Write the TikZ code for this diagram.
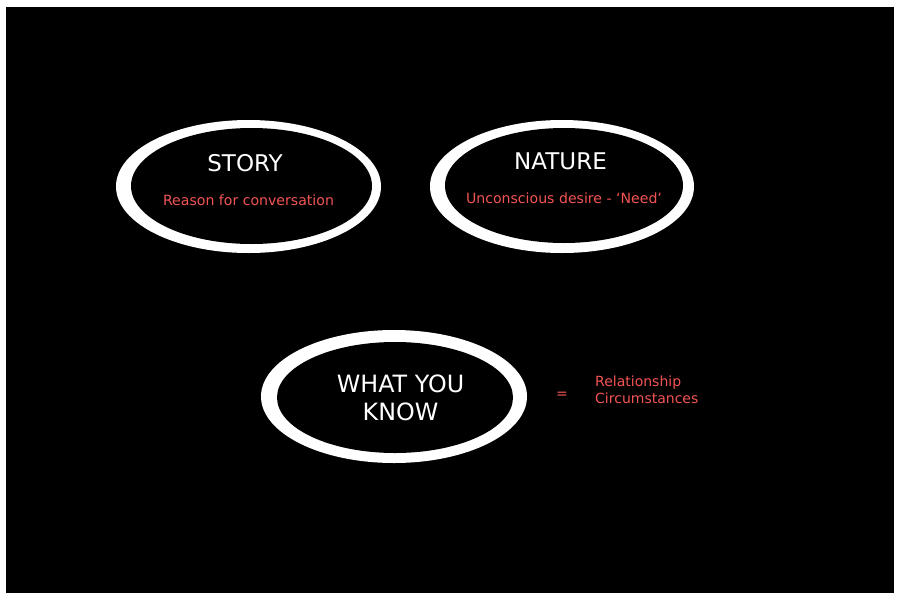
\documentclass[tikz,border=0pt]{standalone}
\usepackage{fontspec}
\setmainfont{DejaVu Sans}
\usetikzlibrary{shapes.geometric}
\definecolor{lbl}{RGB}{242,84,84}
\tikzset{
  x=1pt,y=-1pt,
  title/.style={text=white,font=\fontsize{23}{28}\selectfont,align=center,inner sep=0pt},
  sub/.style={text=lbl,font=\fontsize{14.1}{17}\selectfont,inner sep=0pt},
  side/.style={text=lbl,font=\fontsize{14}{17}\selectfont,inner sep=0pt,align=left},
}
\begin{document}
\begin{tikzpicture}
\useasboundingbox (0,0) rectangle (900,600);
\fill[white] (0,0) rectangle (900,600);
\fill[black] (6,7) rectangle (894,593);
% STORY ring
\fill[white] (248.5,186.5) ellipse [x radius=132.5, y radius=66.5];
\fill[black] (251.5,186) ellipse [x radius=120.5, y radius=58];
% NATURE ring
\fill[white] (562,186.5) ellipse [x radius=132, y radius=66.5];
\fill[black] (564,185.5) ellipse [x radius=119, y radius=57.5];
% WHAT YOU KNOW ring
\fill[white] (394,396.5) ellipse [x radius=133, y radius=66.5];
\fill[black] (395,397.5) ellipse [x radius=118, y radius=55.5];
% texts
\node[title] (story) at (245,163) {STORY};
\node[sub] (storysub) at (248.5,200.5) {Reason for conversation};
\node[title] (nature) at (560.5,161) {NATURE};
\node[sub] (naturesub) at (564,198) {Unconscious desire - ‘Need’};
\node[title,font=\fontsize{23.8}{28}\selectfont] (know) at (400.5,398) {WHAT YOU\\KNOW};
\node[side] (eq) at (562,395) {=};
\node[side,anchor=west] (rel) at (595,389.5) {Relationship\\Circumstances};
\end{tikzpicture}
\end{document}
